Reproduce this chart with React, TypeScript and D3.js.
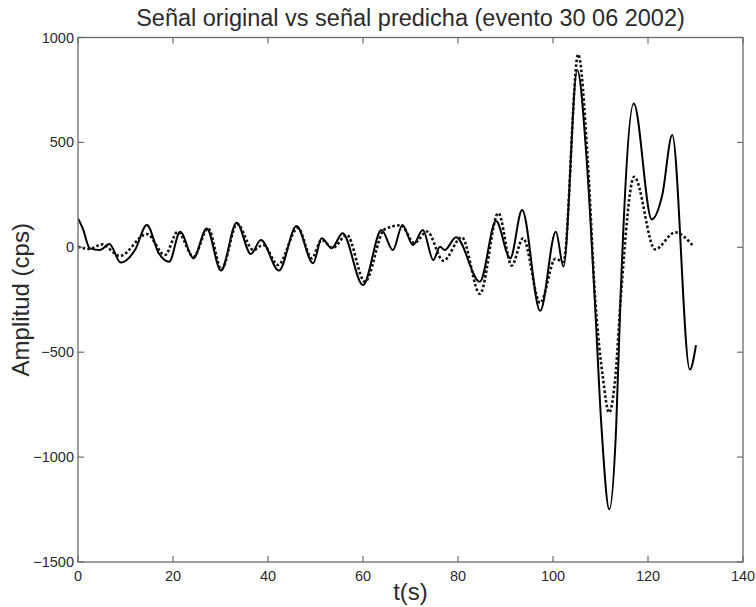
import React from "react";
import * as d3 from "d3";

const WIDTH = 756;
const HEIGHT = 607;

const title = "Señal original vs señal predicha (evento 30 06 2002)";
const xLabel = "t(s)";
const yLabel = "Amplitud (cps)";

const xTicks = [0, 20, 40, 60, 80, 100, 120, 140];
const yTicks = [-1500, -1000, -500, 0, 500, 1000];

// Original signal: time (s) and amplitude (cps)
const originalT = [
  0, 1, 2.5, 4.6, 6.6, 9, 12, 14.5, 17, 19.2, 21.5, 24.3, 27.1, 30.1, 33.4, 36.4,
  38.5, 42.3, 46, 49.5, 51.3, 53.4, 55.7, 60, 63.9, 66.3, 68.3, 70.5, 72.6, 74.8,
  76.2, 77.2, 79.6, 84.6, 88, 91, 93.5, 97.3, 100.6, 102.2, 105.1, 107.2, 108.8,
  110.2, 111.85, 113.3, 114.2, 117, 120.8, 123, 125.1, 128.8, 130.1,
];
const originalV = [
  138, 90, -5, -13, 16, -73, -13, 106, -28, -69, 74, -52, 90, -111, 117, -32,
  35, -111, 101, -76, 43, -5, 67, -180, 82, -13, 106, 11, 82, -61,
  3, -13, 48, -164, 125, -52, 178, -303, 74, -92, 845, 380, -251,
  -855, -1249, -855, -251, 686, 133, 249, 535, -583, -466,
];

// Predicted signal: time (s) and amplitude (cps)
const predictedT = [
  0, 2.5, 5, 8.8, 14.5, 18.3, 21, 24.3, 27.4, 30.2, 33.5, 36.9, 39, 42.1, 46.3,
  49.2, 51.3, 53.6, 56.6, 60.4, 64.5, 68, 70.8, 73.5, 76.9, 80.8, 84.6, 88.5,
  91.3, 93.7, 97.3, 100.5, 102.2, 105.3, 107.3, 108.9, 110.5, 111.8, 113.2, 114.3,
  117.1, 121.5, 125.7, 129.5,
];
const predictedV = [
  3, -8, 14, -41, 63, -37, 74, -45, 90, -105, 111, -13, 11, -84, 92,
  -52, 35, -3, 59, -164, 85, 105, 20, 75, -64, 48, -222, 163,
  -87, 43, -265, -55, -69, 920, 420, -251, -620, -788, -600, -230,
  336, -10, 71, 6,
];

const left = 78;
const right = 743;
const top = 37.5;
const bottom = 562;
const tickLen = 6;

export default function App() {
  const x = d3.scaleLinear().domain([0, 140]).range([left, right]);
  const y = d3.scaleLinear().domain([-1500, 1000]).range([bottom, top]);

  const line = d3
    .line<[number, number]>()
    .x((d) => x(d[0]))
    .y((d) => y(d[1]))
    .curve(d3.curveMonotoneX);

  const original = originalT.map((t, i) => [t, originalV[i]] as [number, number]);
  const predicted = predictedT.map((t, i) => [t, predictedV[i]] as [number, number]);

  const fmt = d3.format("d");
  const axisColor = "#6b6b6b";
  const textColor = "#2b2b2b";
  const font = "'Liberation Sans', Arial, Helvetica, sans-serif";

  return (
    <svg
      width={WIDTH}
      height={HEIGHT}
      style={{ position: "absolute", left: 0, top: 0, background: "#fff" }}
      fontFamily={font}
    >
      <rect x={0} y={0} width={WIDTH} height={HEIGHT} fill="#fff" />
      <defs>
        <clipPath id="plot-clip">
          <rect x={left} y={top} width={right - left} height={bottom - top} />
        </clipPath>
      </defs>

      <g clipPath="url(#plot-clip)" fill="none" strokeLinejoin="round">
        <path d={line(original) ?? ""} stroke="#000" strokeWidth={2} />
        <path
          d={line(predicted) ?? ""}
          stroke="#111"
          strokeWidth={2.6}
          strokeDasharray="2.6,2.2"
        />
      </g>

      {/* box */}
      <rect
        x={left}
        y={top}
        width={right - left}
        height={bottom - top}
        fill="none"
        stroke={axisColor}
        strokeWidth={1.3}
      />

      {/* x ticks, inward on bottom and top */}
      {xTicks.map((t) => (
        <g key={`xt${t}`}>
          <line x1={x(t)} x2={x(t)} y1={bottom} y2={bottom - tickLen} stroke={axisColor} strokeWidth={1.2} />
          <line x1={x(t)} x2={x(t)} y1={top} y2={top + tickLen} stroke={axisColor} strokeWidth={1.2} />
          <text x={x(t)} y={bottom + 19} textAnchor="middle" fontSize={14.5} fill={textColor}>
            {fmt(t)}
          </text>
        </g>
      ))}

      {/* y ticks, inward on left and right */}
      {yTicks.map((v) => (
        <g key={`yt${v}`}>
          <line x1={left} x2={left + tickLen} y1={y(v)} y2={y(v)} stroke={axisColor} strokeWidth={1.2} />
          <line x1={right} x2={right - tickLen} y1={y(v)} y2={y(v)} stroke={axisColor} strokeWidth={1.2} />
          <text x={left - 4} y={y(v)} dy="0.35em" textAnchor="end" fontSize={14.5} fill={textColor}>
            {fmt(v)}
          </text>
        </g>
      ))}

      <text x={(left + right) / 2} y={26} textAnchor="middle" fontSize={23.5} fill={textColor}>
        {title}
      </text>
      <text x={(left + right) / 2} y={600} textAnchor="middle" fontSize={24} fill={textColor}>
        {xLabel}
      </text>
      <text
        transform={`translate(29, ${(top + bottom) / 2}) rotate(-90)`}
        textAnchor="middle"
        fontSize={24}
        fill={textColor}
      >
        {yLabel}
      </text>
    </svg>
  );
}
